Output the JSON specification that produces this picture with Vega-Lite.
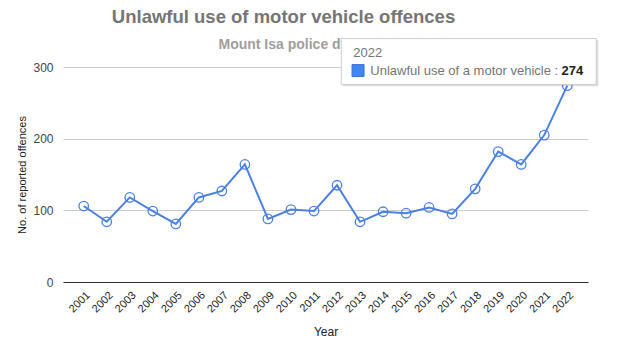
{
  "$schema": "https://vega.github.io/schema/vega-lite/v6.json",
  "width": 525,
  "height": 215,
  "autosize": {"type": "none"},
  "padding": {"left": 63, "top": 67, "right": 32, "bottom": 67},
  "background": "white",
  "config": {"view": {"stroke": null}, "font": "Liberation Sans"},
  "title": {
    "text": "Unlawful use of motor vehicle offences",
    "anchor": "middle",
    "frame": "group",
    "dx": -42,
    "offset": 10,
    "font": "Liberation Sans",
    "fontSize": 18.5,
    "fontWeight": "bold",
    "color": "#757575"
  },
  "data": {"values": [
    {"year": "2001", "offences": 106},
    {"year": "2002", "offences": 84},
    {"year": "2003", "offences": 118},
    {"year": "2004", "offences": 99},
    {"year": "2005", "offences": 81},
    {"year": "2006", "offences": 118},
    {"year": "2007", "offences": 127},
    {"year": "2008", "offences": 164},
    {"year": "2009", "offences": 88},
    {"year": "2010", "offences": 101},
    {"year": "2011", "offences": 99},
    {"year": "2012", "offences": 135},
    {"year": "2013", "offences": 84},
    {"year": "2014", "offences": 98},
    {"year": "2015", "offences": 96},
    {"year": "2016", "offences": 104},
    {"year": "2017", "offences": 95},
    {"year": "2018", "offences": 130},
    {"year": "2019", "offences": 182},
    {"year": "2020", "offences": 164},
    {"year": "2021", "offences": 205},
    {"year": "2022", "offences": 274}
  ]},
  "resolve": {"axis": {"x": "independent"}},
  "layer": [
    {
      "encoding": {
        "x": {
          "field": "year", "type": "ordinal",
          "scale": {"type": "point", "padding": 0.9},
          "axis": {
            "orient": "bottom",
            "title": "Year", "titleFont": "Liberation Sans", "titleFontSize": 12, "titleFontWeight": "normal", "titleColor": "#222222", "titlePadding": 12,
            "labelAngle": -45, "labelFont": "Liberation Sans", "labelFontSize": 11, "labelColor": "#222222", "labelPadding": 7,
            "ticks": false, "domainColor": "#333333", "domainWidth": 1, "grid": false
          }
        },
        "y": {
          "field": "offences", "type": "quantitative",
          "scale": {"domain": [0, 300], "nice": false},
          "axis": {
            "title": "No. of reported offences", "titleFont": "Liberation Sans", "titleFontSize": 11, "titleFontWeight": "normal", "titleColor": "#222222", "titlePadding": 5,
            "values": [0, 100, 200, 300], "labelFont": "Liberation Sans", "labelFontSize": 12, "labelColor": "#444444", "labelPadding": 10,
            "ticks": false, "domain": false, "gridColor": "#cccccc", "gridWidth": 1
          }
        }
      },
      "layer": [
        {"mark": {"type": "line", "color": "#4a80e0", "strokeWidth": 2}},
        {"mark": {"type": "point", "shape": "circle", "size": 90, "filled": false, "stroke": "#4a80e0", "strokeWidth": 1.3, "opacity": 1}}
      ]
    },
    {
      "transform": [{"filter": "datum.year == '2022'"}],
      "encoding": {
        "x": {
          "field": "year", "type": "ordinal",
          "axis": {
            "orient": "top",
            "title": "Mount Isa police district", "titleFont": "Liberation Sans", "titleFontSize": 14, "titleFontWeight": "bold", "titleColor": "#9e9e9e",
            "titleAnchor": "start", "titleAlign": "left", "titleX": 155, "titleY": -19, "titleBaseline": "alphabetic",
            "labels": false, "ticks": false, "domain": false, "grid": false
          }
        },
        "y": {"field": "offences", "type": "quantitative"}
      },
      "layer": [
        {"mark": {"type": "point", "shape": "M-1.76,-0.355L0.245,-0.355L0.245,0.005L-1.76,0.005Z", "size": 65025, "filled": true, "fill": "#000000", "fillOpacity": 0.12, "strokeWidth": 0, "opacity": 1}},
        {"mark": {"type": "point", "shape": "M-1.773,-0.369L0.227,-0.369L0.227,-0.008L-1.773,-0.008Z", "size": 65025, "filled": true, "fill": "#ffffff", "stroke": "#cccccc", "strokeWidth": 1, "opacity": 1}},
        {"mark": {"type": "point", "shape": "M-1.688,-0.165L-1.594,-0.165L-1.594,-0.071L-1.688,-0.071Z", "size": 65025, "filled": true, "fill": "#4285f4", "stroke": "#3b6fc9", "strokeWidth": 1, "opacity": 1}},
        {"mark": {"type": "text", "align": "left", "baseline": "middle", "dx": -214, "dy": -33, "fontSize": 13, "font": "Liberation Sans", "color": "#757575"}, "encoding": {"text": {"field": "year"}}},
        {"mark": {"type": "text", "align": "left", "baseline": "middle", "dx": -197, "dy": -15, "fontSize": 13, "font": "Liberation Sans", "color": "#757575", "text": "Unlawful use of a motor vehicle : "}},
        {"mark": {"type": "text", "align": "right", "baseline": "middle", "dx": 16, "dy": -15, "fontSize": 13, "font": "Liberation Sans", "fontWeight": "bold", "color": "#222222"}, "encoding": {"text": {"field": "offences"}}}
      ]
    }
  ]
}
